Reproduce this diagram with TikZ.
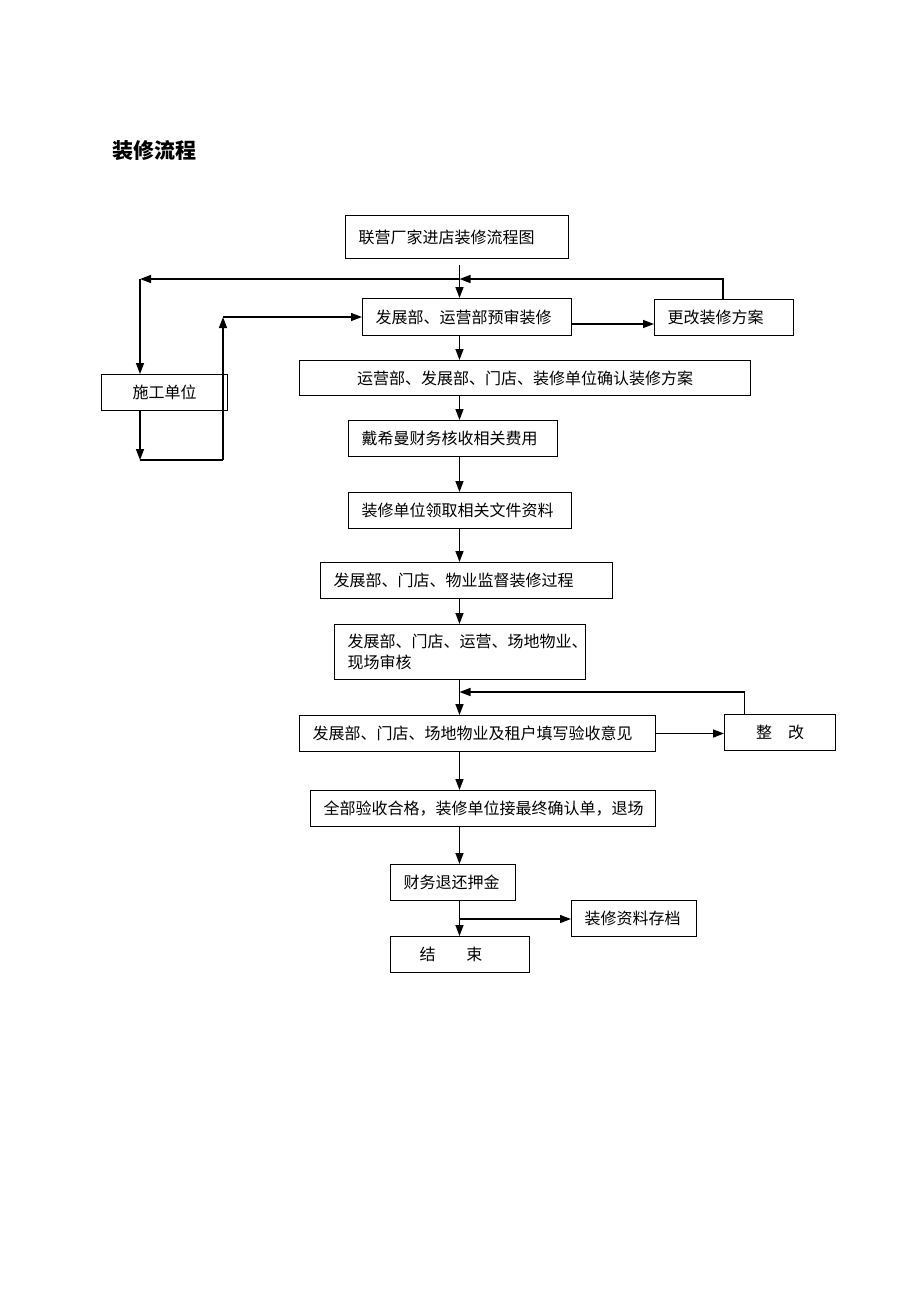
\documentclass[tikz,border=0pt]{standalone}
\usepackage{fontspec}
\setmainfont{Noto Sans CJK SC}
\usetikzlibrary{arrows.meta}
\begin{document}
\begin{tikzpicture}[x=1pt,y=-1pt,
  box/.style={draw,line width=1pt,anchor=north west,inner xsep=13pt,inner ysep=0pt,align=left,
    font=\fontsize{16}{21}\selectfont},
  cbox/.style={box,align=center,inner xsep=0pt},
  arr/.style={line width=1.4pt,-{Triangle[length=11pt,width=8pt]}},
  ln/.style={line width=1.4pt}]
\useasboundingbox[fill=white] (0,0) rectangle (920,1302);
\node[anchor=west,font=\fontsize{21}{24}\selectfont\bfseries] (title) at (109,151) {装修流程};
\coordinate (sp) at (459.5,0);
\node[box,text width=197pt,minimum height=43pt] (n1) at (345,215) {联营厂家进店装修流程图};
\node[box,text width=183pt,minimum height=37pt] (n2) at (362,298) {发展部、运营部预审装修};
\node[box,text width=113pt,minimum height=36pt] (n3) at (654,299) {更改装修方案};
\node[cbox,text width=126pt,minimum height=36pt] (sg) at (101,374) {施工单位};
\node[cbox,text width=451pt,minimum height=35pt] (n4) at (299,360) {运营部、发展部、门店、装修单位确认装修方案};
\node[box,text width=183pt,minimum height=36pt] (n5) at (348,420) {戴希曼财务核收相关费用};
\node[box,text width=197pt,minimum height=36pt] (n6) at (348,492) {装修单位领取相关文件资料};
\node[box,text width=266pt,minimum height=36pt] (n7) at (320,562) {发展部、门店、物业监督装修过程};
\node[box,text width=225pt,minimum height=55pt] (n8) at (334,624) {发展部、门店、运营、场地物业、\\现场审核};
\node[box,text width=330pt,minimum height=36pt] (n9) at (299,715) {发展部、门店、场地物业及租户填写验收意见};
\node[cbox,text width=111pt,minimum height=36pt] (zg) at (724,714) {整\hspace{16pt}改};
\node[box,text width=319pt,minimum height=36pt] (n10) at (310,790) {全部验收合格，装修单位接最终确认单，退场};
\node[box,text width=99pt,minimum height=36pt] (n11) at (390,864) {财务退还押金};
\node[box,text width=99pt,minimum height=36pt] (da) at (571,900) {装修资料存档};
\node[box,inner xsep=0pt,text width=139pt,minimum height=36pt] (n12) at (390,936) {\hspace{29pt}结\hspace{31pt}束};
% top junctions
\coordinate (c1) at (459.5,279);
\coordinate (cL) at (140,279);
\coordinate (cB) at (140,460);
\coordinate (cR) at (223,460);
\draw[arr,shorten <=6pt] (n1.south -| sp) -- (n2.north -| sp);
\draw[arr] (c1) -- (cL);
\draw[arr] (cL) -- (sg.north -| cL);
\draw[arr] ([xshift=-1pt]n3.north) |- (c1);
\draw[arr] ([yshift=-7pt]n2.east) -- ([yshift=-7pt]n2.east -| n3.west);
\draw[arr] (sg.south -| cL) -- (cB);
\draw[ln] (cB) -- (cR);
\draw[arr] (cR) -- (cR |- n2.west);
\draw[arr] (cR |- n2.west) -- (n2.west);
% spine
\draw[arr] (n2.south -| sp) -- (n4.north -| sp);
\draw[arr] (n4.south -| sp) -- (n5.north -| sp);
\draw[arr] (n5.south -| sp) -- (n6.north -| sp);
\draw[arr] (n6.south -| sp) -- (n7.north -| sp);
\draw[arr] (n7.south -| sp) -- (n8.north -| sp);
\draw[arr] (n8.south -| sp) -- (n9.north -| sp);
\draw[arr] (n9.south -| sp) -- (n10.north -| sp);
\draw[arr] (n10.south -| sp) -- (n11.north -| sp);
\draw[arr] (n11.south -| sp) -- (n12.north -| sp);
% rework loop
\coordinate (c2) at (459.5,692);
\draw[arr] ([xshift=-35.5pt]zg.north) |- (c2);
\draw[arr] (n9.east) -- (zg.west |- n9.east);
% archive branch
\coordinate (c3) at (459.5,919);
\draw[arr] (c3) -- (da.west |- c3);
\end{tikzpicture}
\end{document}
